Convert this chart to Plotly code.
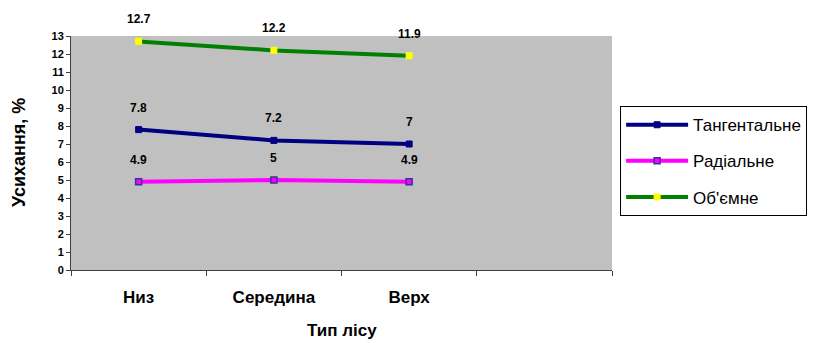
import plotly.graph_objects as go

categories = ["Низ", "Середина", "Верх"]
all_slots = ["Низ", "Середина", "Верх", " "]
tangential = [7.8, 7.2, 7.0]
radial = [4.9, 5.0, 4.9]
volumetric = [12.7, 12.2, 11.9]
series_names = ["Тангентальне", "Радіальне", "Об'ємне"]
y_ticks = list(range(0, 14))
x_title = "Тип лісу"
y_title = "Усихання, %"

FONT = "Liberation Sans, Arial, sans-serif"

fig = go.Figure()
styles = [
    (tangential, "#000080", dict(symbol="square", size=6, color="#000080", line=dict(color="#000080", width=1))),
    (radial, "#FF00FF", dict(symbol="square", size=6, color="#FF00FF", line=dict(color="#333399", width=1.5))),
    (volumetric, "#008000", dict(symbol="square", size=6, color="#FFFF00", line=dict(color="#FFFF00", width=1))),
]
for i, (name, (vals, col, mk)) in enumerate(zip(series_names, styles)):
    fig.add_trace(go.Scatter(
        x=categories, y=vals, name=name, mode="lines+markers", legendgroup=f"g{i}",
        line=dict(color=col, width=4), marker=mk,
    ))
    for c, v in zip(categories, vals):
        fig.add_annotation(x=c, y=v, text=f"{v:g}", showarrow=False,
                           yshift=22, font=dict(family=FONT, size=12, color="black", weight="bold"))

fig.add_annotation(xref="paper", yref="paper", x=0.5, y=-0.26, yanchor="middle",
                   text=x_title, showarrow=False,
                   font=dict(family=FONT, size=17, color="black", weight="bold"))
fig.add_annotation(xref="paper", yref="paper", x=-0.096, y=0.5, xanchor="center",
                   text=y_title, showarrow=False, textangle=-90,
                   font=dict(family=FONT, size=18, color="black", weight="bold"))

fig.update_layout(
    width=819, height=343,
    margin=dict(l=71, r=204, t=36, b=73),
    paper_bgcolor="white", plot_bgcolor="#C0C0C0",
    font=dict(family=FONT, color="black"),
    showlegend=True,
    legend=dict(x=1.015, y=0.70, xanchor="left", yanchor="top",
                bordercolor="black", borderwidth=1, bgcolor="white",
                font=dict(family=FONT, size=17, color="black"),
                tracegroupgap=11, itemwidth=62),
    xaxis=dict(type="category", categoryarray=all_slots, categoryorder="array",
               range=[-0.5, 3.5], tickson="boundaries", ticks="outside", ticklen=5,
               tickcolor="#404040", showline=True, linecolor="#404040", linewidth=1,
               showgrid=False, zeroline=False, ticklabelstandoff=12, automargin=False,
               tickfont=dict(family=FONT, size=17, weight="bold")),
    yaxis=dict(range=[0, 13], tickvals=y_ticks, ticks="outside", ticklen=4,
               tickcolor="#404040", showline=True, linecolor="#404040", linewidth=1,
               showgrid=False, zeroline=False, automargin=False,
               tickfont=dict(family=FONT, size=11, weight="bold")),
)

fig.write_html("out.html")
